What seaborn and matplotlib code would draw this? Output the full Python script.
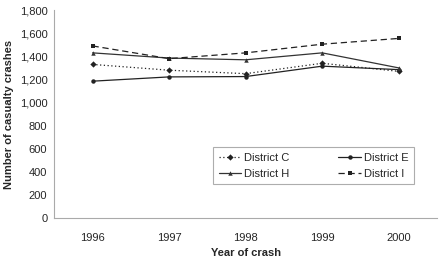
import pandas as pd
import matplotlib
matplotlib.use("Agg")
import matplotlib.pyplot as plt
import seaborn as sns

sns.set_theme(style="white")
plt.rcParams['font.family'] = ['Liberation Sans', 'DejaVu Sans']

# Data
years = ['1996', '1997', '1998', '1999', '2000']
district_c = [1330, 1280, 1250, 1340, 1270]
district_e = [1185, 1222, 1225, 1315, 1285]
district_h = [1430, 1385, 1370, 1430, 1300]
district_i = [1490, 1380, 1430, 1505, 1555]

series = {
    'District C': district_c,
    'District E': district_e,
    'District H': district_h,
    'District I': district_i,
}

rows = []
for name, vals in series.items():
    for i, v in enumerate(vals):
        rows.append({'pos': i, 'year': years[i], 'district': name, 'crashes': v})
df = pd.DataFrame(rows)

dashes = {
    'District C': (1, 2),
    'District E': '',
    'District H': '',
    'District I': (5, 3),
}
markers = {
    'District C': 'D',
    'District E': 'o',
    'District H': '^',
    'District I': 's',
}
palette = {
    'District C': '#222222',
    'District E': '#222222',
    'District H': '#333333',
    'District I': '#222222',
}

fig = plt.figure(figsize=(4.45, 2.66), dpi=100)
ax = fig.add_axes([0.122, 0.18, 0.86, 0.782])

sns.lineplot(data=df, x='pos', y='crashes', hue='district', style='district',
             dashes=dashes, markers=markers, palette=palette, ax=ax,
             linewidth=0.9, markersize=3.2, markeredgewidth=0)

ax.set_xlim(-0.5, 4.5)
ax.set_ylim(0, 1800)
ax.set_yticks(range(0, 1801, 200))
ax.set_yticklabels([f"{v:,}" for v in range(0, 1801, 200)])
ax.set_xticks(range(5))
ax.set_xticklabels(years)
ax.set_xticks([i - 0.5 for i in range(6)], minor=True)
ax.tick_params(axis='x', which='major', length=0, pad=11, labelsize=8)
ax.tick_params(axis='x', which='minor', length=3, width=0.6, color='#888888', direction='out')
ax.tick_params(axis='y', length=3, width=0.6, color='#888888', direction='out', labelsize=8, pad=2)

for s in ['top', 'right']:
    ax.spines[s].set_visible(False)
for s in ['left', 'bottom']:
    ax.spines[s].set_color('#aaaaaa')
    ax.spines[s].set_linewidth(0.8)

ax.set_xlabel('Year of crash', fontsize=8, fontweight='bold', labelpad=3)
ax.set_ylabel('Number of casualty crashes', fontsize=8, fontweight='bold', labelpad=4)

# legend filled row-wise like the original: C, E / H, I
handles, labels = ax.get_legend_handles_labels()
lookup = dict(zip(labels, handles))
order = ['District C', 'District H', 'District E', 'District I']
leg = ax.legend([lookup[k] for k in order], order, ncol=2, loc='upper left',
                bbox_to_anchor=(0.415, 0.34), fontsize=8, frameon=True,
                fancybox=False, edgecolor='#999999', handlelength=2.0,
                handletextpad=0.3, columnspacing=4.4, borderpad=0.5,
                labelspacing=0.5, borderaxespad=0)
leg.get_frame().set_linewidth(0.8)

plt.savefig('out.png', dpi=100)
plt.close()
